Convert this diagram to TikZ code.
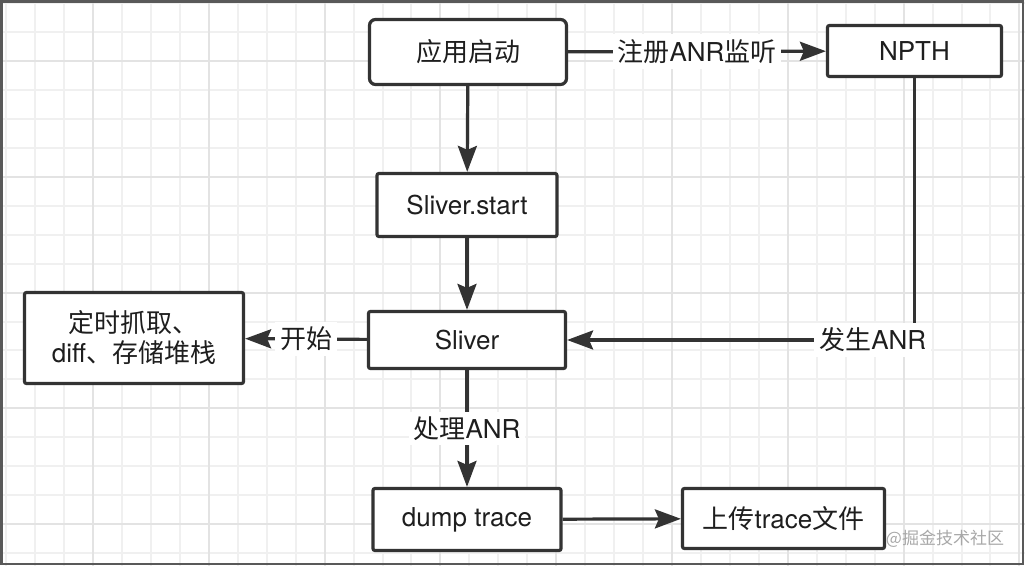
\documentclass[tikz,border=0pt]{standalone}
\usepackage{fontspec}
\setmainfont{TeX Gyre Heros}
\newfontfamily\cjk{Noto Sans CJK SC}
\usepackage{tikz}
\usetikzlibrary{positioning}
\usetikzlibrary{arrows.meta}

\definecolor{boxline}{HTML}{333333}
\definecolor{boxtext}{HTML}{1E1E1E}
\definecolor{gridminor}{HTML}{F0F0F0}
\definecolor{gridmajor}{HTML}{E3E3E3}
\definecolor{markgray}{HTML}{A8A8A8}

\begin{document}
\begin{tikzpicture}[x=0.5pt,y=-0.5pt,>={Stealth[length=13pt,width=9.5pt,inset=2pt]},
	line width=1.6pt,draw=boxline,text=boxtext,
	main node/.style={draw=boxline,line width=1.6pt,fill=white,rounded corners=1pt,
		inner sep=0pt,align=center,font=\fontsize{13}{15}\selectfont},
	edge label/.style={fill=white,inner sep=2.5pt,font=\fontsize{13}{15}\selectfont}]
	
	\useasboundingbox (0,0) rectangle (1025,566);
	
	% background grid
	\foreach \i in {0,...,35}
		\draw[line width=1pt,draw=gridminor] ({6.15+28.95*\i},0) -- ({6.15+28.95*\i},566);
	\foreach \j in {0,...,19}
		\draw[line width=1pt,draw=gridminor] (0,{3.1+28.95*\j}) -- (1025,{3.1+28.95*\j});
	\foreach \i in {0,...,8}
		\draw[line width=1pt,draw=gridmajor] ({93+115.8*\i},0) -- ({93+115.8*\i},566);
	\foreach \j in {0,...,4}
		\draw[line width=1pt,draw=gridmajor] (0,{61+115.8*\j}) -- (1025,{61+115.8*\j});
	\draw[line width=1.2pt,draw=black!65] (1.5,1.5) rectangle (1023,564);
	
	% boxes
	\node[main node,rounded corners=3pt,minimum width=98.5pt,minimum height=32.5pt] (start) at (468,52) {\cjk 应用启动};
	\node[main node,minimum width=87pt,minimum height=25.5pt] (npth) at (914.5,51) {NPTH};
	\node[main node,minimum width=90pt,minimum height=31.5pt] (sstart) at (467,205) {Sliver.start};
	\node[main node,minimum width=98.5pt,minimum height=28.5pt] (sliver) at (467,340) {Sliver};
	\node[main node,minimum width=109.5pt,minimum height=45.5pt,font=\fontsize{13}{15}\selectfont] (timer) at (134,338) {{\cjk 定时抓取、}\\diff{\cjk 、存储堆栈}};
	\node[main node,minimum width=94pt,minimum height=31pt] (dump) at (467,519.5) {dump trace};
	\node[main node,minimum width=101pt,minimum height=30pt] (upload) at (783.5,518.5) {{\cjk 上传}trace{\cjk 文件}};
	
	% connectors
	\draw[->] (start) -- node[edge label] {{\cjk 注册}ANR{\cjk 监听}} (npth);
	\draw[->] (start) -- (sstart);
	\draw[->] (sstart) -- (sliver);
	\draw[->] (sliver) -- node[edge label] {\cjk 开始} (timer);
	\draw[->] (npth) |- node[edge label,pos=0.56] {{\cjk 发生}ANR} (sliver);
	\draw[->] (sliver) -- node[edge label] {{\cjk 处理}ANR} (dump);
	\draw[->] (dump) -- (upload);
	
	\node[text=markgray,font=\cjk\fontsize{8.5}{10}\selectfont] (mark) at (945,539) {@掘金技术社区};
\end{tikzpicture}
\end{document}
